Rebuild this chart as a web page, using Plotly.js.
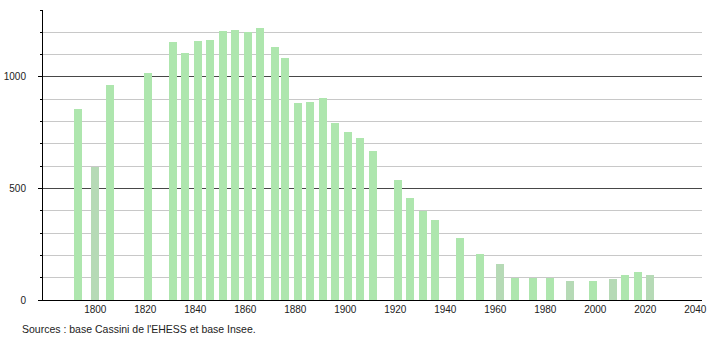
<!DOCTYPE html>
<html>
<head>
<meta charset="utf-8">
<script src="https://cdn.plot.ly/plotly-3.0.1.min.js"></script>
<style>html,body{margin:0;padding:0;background:#fff;}#chart{width:710px;height:340px;}</style>
</head>
<body>
<div id="chart"></div>
<script>
var years = [1793,1800,1806,1821,1831,1836,1841,1846,1851,1856,1861,1866,1872,1876,1881,1886,1891,1896,1901,1906,1911,1921,1926,1931,1936,1946,1954,1962,1968,1975,1982,1990,1999,2007,2012,2017,2022];
var population = [857,596,964,1018,1157,1107,1161,1167,1206,1210,1203,1219,1133,1085,881,888,906,793,752,727,666,536,459,399,360,277,204,160,99,99,99,87,83,92,114,124,114];
var grayerYears = [1800,1962,1990,2007,2022];
var xTicks = [1800,1820,1840,1860,1880,1900,1920,1940,1960,1980,2000,2020,2040];
var yTicks = [0,500,1000];
var sourceText = "Sources : base Cassini de l'EHESS et base Insee.";

var colors = years.map(function(y){ return grayerYears.indexOf(y) >= 0 ? '#b6dab6' : '#aee6ae'; });

var trace = {
  type: 'bar',
  x: years,
  y: population,
  width: 3.2,
  marker: {color: colors, line: {width: 0}},
  hoverinfo: 'x+y'
};

var font = {family: '"Liberation Sans", Arial, Helvetica, sans-serif', size: 10, color: '#222'};

var layout = {
  width: 710,
  height: 340,
  margin: {l: 43, r: 8, t: 10, b: 40},
  paper_bgcolor: '#fff',
  plot_bgcolor: '#fff',
  font: font,
  showlegend: false,
  bargap: 0,
  xaxis: {
    range: [1779.1, 2042.7],
    tickmode: 'array',
    tickvals: xTicks,
    ticktext: xTicks.map(String),
    showgrid: false,
    zeroline: false,
    showline: true,
    linecolor: '#000',
    linewidth: 1,
    ticks: '',
    fixedrange: true
  },
  yaxis: {
    range: [0, 1300],
    tickmode: 'array',
    tickvals: yTicks,
    ticktext: yTicks.map(String),
    showgrid: true,
    gridcolor: '#484848',
    gridwidth: 1,
    zeroline: false,
    showline: true,
    linecolor: '#000',
    linewidth: 1,
    ticks: 'outside',
    ticklen: 4,
    tickcolor: '#000',
    ticklabelstandoff: 10,
    minor: {
      dtick: 100,
      tick0: 0,
      showgrid: true,
      gridcolor: '#c8c8c8',
      gridwidth: 1,
      ticks: 'outside',
      ticklen: 2,
      tickcolor: '#000'
    },
    fixedrange: true
  },
  annotations: [{
    text: sourceText,
    xref: 'paper', yref: 'paper',
    x: -0.0349, y: -0.101,
    xanchor: 'left', yanchor: 'middle',
    showarrow: false,
    font: {family: font.family, size: 10.5, color: '#222'}
  }]
};

Plotly.newPlot('chart', [trace], layout, {displayModeBar: false, staticPlot: true});
</script>
</body>
</html>
